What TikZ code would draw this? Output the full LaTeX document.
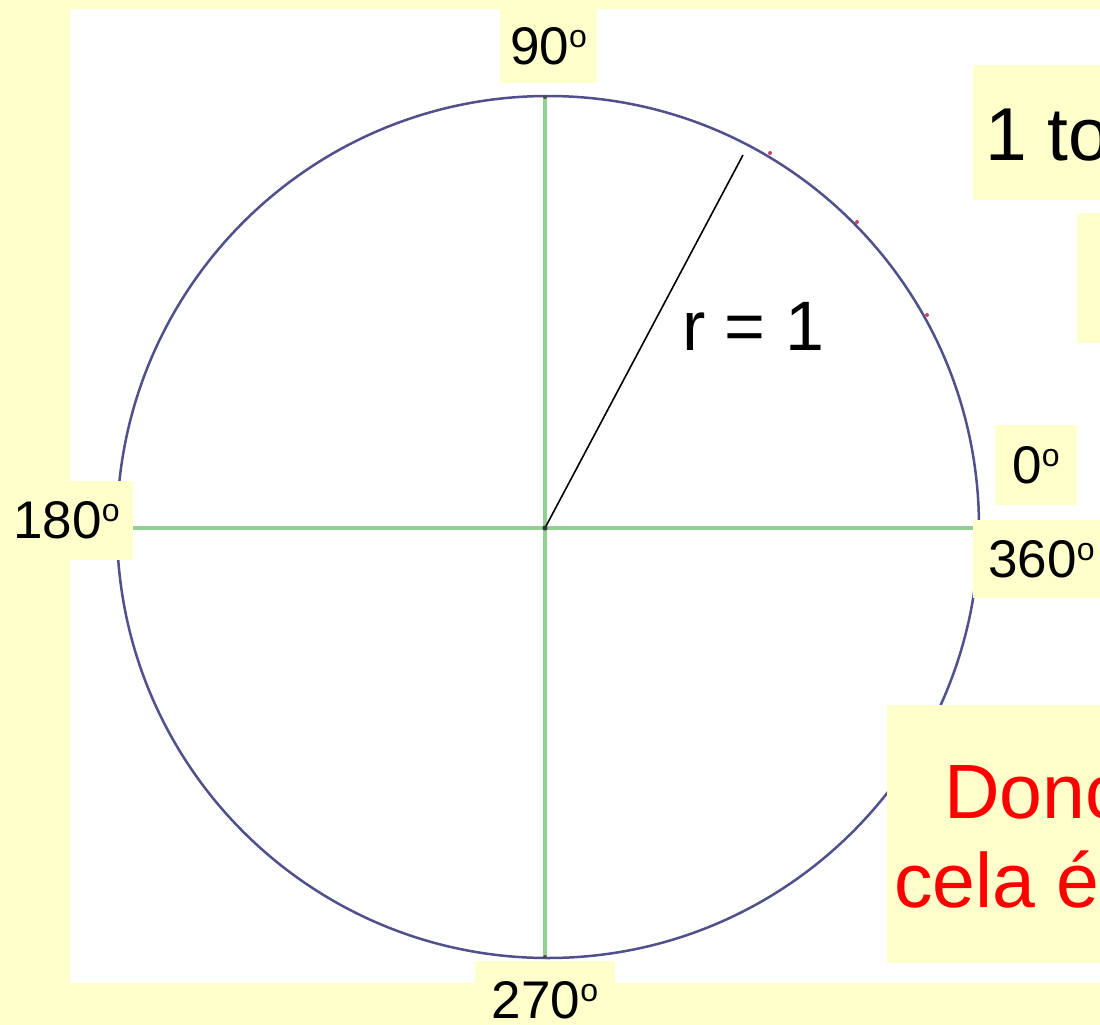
\documentclass[tikz,border=0pt]{standalone}
\usepackage{fontspec}
\setmainfont{Liberation Sans}
\definecolor{bgy}{RGB}{255,255,204}
\definecolor{circc}{RGB}{80,80,140}
\definecolor{axisg}{RGB}{145,208,145}
\definecolor{tickr}{RGB}{200,70,100}
\newcommand{\supo}{\raisebox{17pt}{\fontsize{32}{32}\selectfont o}}
\begin{document}
\begin{tikzpicture}[x=1pt,y=-1pt,
  lbl/.style={fill=bgy, inner sep=0pt, font=\fontsize{53}{60}\selectfont, text=black},
  notebox/.style={fill=bgy, inner sep=0pt, anchor=north west},
  bigtext/.style={inner sep=0pt, anchor=base west},
  axis/.style={draw=axisg, line width=4pt},
  dotmark/.style={circle, fill=#1, inner sep=0pt, minimum size=5pt},
]
\useasboundingbox (0,0) rectangle (1100,1025);
\clip (0,0) rectangle (1100,1025);
\fill[bgy] (0,0) rectangle (1100,1025);
\fill[white] (70,9) rectangle (1100,983);

% circle
\node[circle, draw=circc, line width=2.5pt, minimum size=862pt, inner sep=0pt] (circ) at (548,527) {};

% axis coordinates
\coordinate (O) at (545,528);
\coordinate (T) at (545,97);
\coordinate (B) at (545,957);
\coordinate (P) at (743,155);

% degree labels
\node[lbl, minimum width=97pt, minimum height=74pt] (l90) at (548.5,46) {90\supo};
\node[lbl, minimum width=140pt, minimum height=78pt] (l270) at (545,1000) {270\supo};
\node[lbl, minimum width=133pt, minimum height=79pt] (l180) at (66.5,520.5) {180\supo};
\node[lbl, minimum width=82pt, minimum height=80pt] (l0) at (1036,465) {0\supo};
\node[lbl, minimum width=137pt, minimum height=78pt] (l360) at (1041.5,559) {360\supo};

% axes
\draw[axis] (T) -- (B);
\draw[axis] (l180.east |- O) -- (l360.west |- O);

% radius
\draw[black, line width=1.6pt] (O) -- (P);
\node[bigtext, font=\fontsize{70}{80}\selectfont] (rlab) at (682,350) {r = 1};

% small marks
\node[dotmark=black!80] (cdot) at (O) {};
\node[dotmark=black!70, minimum size=4pt] (tdot) at (T) {};
\node[dotmark=black!70, minimum size=4pt] (bdot) at (B) {};
\node[dotmark=tickr, minimum size=4pt] (m1) at (770,153) {};
\node[dotmark=tickr, minimum size=4pt] (m2) at (857,222) {};
\node[dotmark=tickr, minimum size=4pt] (m3) at (927,315) {};

% right-hand text boxes (cut by the picture edge, as in the reference)
\node[notebox, minimum width=150pt, minimum height=135pt] (box1) at (973,65) {};
\node[bigtext, font=\fontsize{75}{86}\selectfont] (t1) at (985,160) {1 to};
\node[notebox, minimum width=45pt, minimum height=130pt] (box2) at (1077,213) {};
\node[notebox, minimum width=240pt, minimum height=258pt] (box3) at (887,705) {};
\node[bigtext, text=red, font=\fontsize{77}{88}\selectfont] (t3a) at (944,818) {Donc};
\node[bigtext, text=red, font=\fontsize{77}{88}\selectfont] (t3b) at (894,907) {cela éc};
\end{tikzpicture}
\end{document}
